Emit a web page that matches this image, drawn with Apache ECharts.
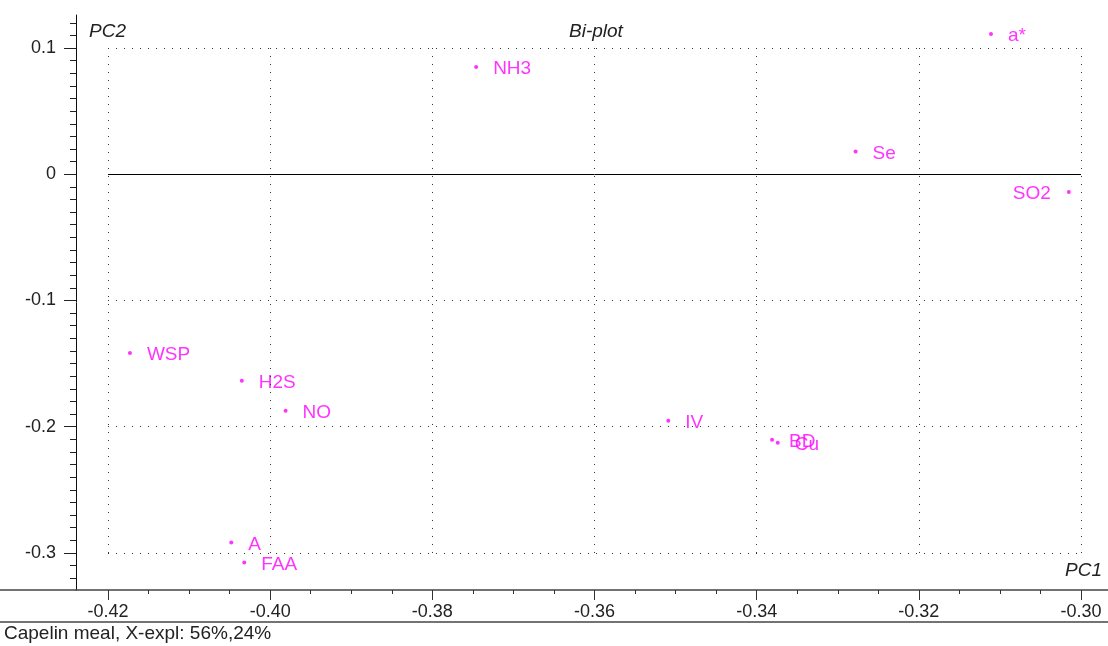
<!DOCTYPE html>
<html>
<head>
<meta charset="utf-8">
<title>Bi-plot</title>
<script src="https://cdn.jsdelivr.net/npm/echarts@6/dist/echarts.min.js"></script>
<style>
  html, body { margin: 0; padding: 0; background: #fff; }
  #chart { width: 1108px; height: 646px; }
</style>
</head>
<body>
<div id="chart"></div>
<script>
// Variable names and their loadings on the first two components
const names = ['a*', 'NH3', 'Se', 'SO2', 'WSP', 'H2S', 'NO', 'IV', 'BD', 'Cu', 'A', 'FAA'];
const pc1 = [-0.3111, -0.3746, -0.3278, -0.3015, -0.4173, -0.4035, -0.3981, -0.3509, -0.3381, -0.3374, -0.4048, -0.4032];
const pc2 = [0.111, 0.085, 0.018, -0.014, -0.1415, -0.1636, -0.1873, -0.1953, -0.2103, -0.2126, -0.2917, -0.3075];
// Labels near the right edge are placed to the left of their point
const leftLabelled = ['SO2'];

// Tick labels and dotted reference lines
const xTicks = [-0.42, -0.40, -0.38, -0.36, -0.34, -0.32, -0.30];
const yTicks = [0.1, 0, -0.1, -0.2, -0.3];
const yDotted = [0.1, -0.1, -0.2, -0.3];
const xMinorTicks = [];
for (let i = 0; i <= 24; i++) xMinorTicks.push(+(-0.42 + i * 0.005).toFixed(3));
const yMinorTicks = [];
for (let i = 0; i <= 44; i++) yMinorTicks.push(+(-0.32 + i * 0.01).toFixed(2));

const X_MIN = -0.42395, X_MAX = -0.29667;
const Y_MIN = -0.32931, Y_MAX = 0.12614;
const FONT = 'Liberation Sans';
const MAGENTA = '#ff00ff';

const dotStyle = { color: '#333', width: 1, type: [1, 7] };
const guideLines = [];
xTicks.forEach(x => guideLines.push([
  { coord: [x, -0.3], lineStyle: dotStyle },
  { coord: [x, 0.1] }
]));
yDotted.forEach(y => guideLines.push([
  { coord: [-0.42, y], lineStyle: dotStyle },
  { coord: [-0.30, y] }
]));
guideLines.push([
  { coord: [-0.42, 0], lineStyle: { color: '#000', width: 1, type: 'solid' } },
  { coord: [-0.30, 0] }
]);

const points = names.map((n, i) => {
  const item = { value: [pc1[i], pc2[i]], name: n };
  if (leftLabelled.includes(n)) item.label = { position: 'left', distance: 16 };
  return item;
});

const chart = echarts.init(document.getElementById('chart'), null, { renderer: 'canvas' });

chart.setOption({
  animation: false,
  backgroundColor: '#fff',
  textStyle: { fontFamily: FONT },
  grid: { left: 76, right: 0, top: 15, bottom: 56, containLabel: false },
  xAxis: [
    {
      type: 'value', min: X_MIN, max: X_MAX, position: 'bottom',
      axisLine: { show: true, onZero: false, lineStyle: { color: '#444', width: 1.5 } },
      axisTick: { show: true, length: 10, customValues: xTicks, lineStyle: { color: '#333' } },
      axisLabel: {
        show: true, customValues: xTicks, margin: 13, color: '#222',
        fontFamily: FONT, fontSize: 18,
        formatter: v => v.toFixed(2)
      },
      splitLine: { show: false }
    },
    {
      type: 'value', min: X_MIN, max: X_MAX, position: 'bottom',
      axisLine: { show: false, onZero: false },
      axisTick: { show: true, length: 4, customValues: xMinorTicks, lineStyle: { color: '#333' } },
      axisLabel: { show: false },
      splitLine: { show: false }
    }
  ],
  yAxis: [
    {
      type: 'value', min: Y_MIN, max: Y_MAX, position: 'left',
      axisLine: { show: true, onZero: false, lineStyle: { color: '#111', width: 1 } },
      axisTick: { show: true, length: 12, customValues: yTicks, lineStyle: { color: '#222' } },
      axisLabel: {
        show: true, customValues: yTicks, margin: 20, color: '#222',
        fontFamily: FONT, fontSize: 18,
        formatter: v => (Math.abs(v) < 1e-9 ? '0' : v.toFixed(1))
      },
      splitLine: { show: false }
    },
    {
      type: 'value', min: Y_MIN, max: Y_MAX, position: 'left',
      axisLine: { show: false, onZero: false },
      axisTick: { show: true, length: 6, customValues: yMinorTicks, lineStyle: { color: '#222' } },
      axisLabel: { show: false },
      splitLine: { show: false }
    }
  ],
  series: [
    {
      type: 'scatter',
      xAxisIndex: 0, yAxisIndex: 0,
      symbol: 'circle',
      symbolSize: 4,
      itemStyle: { color: MAGENTA },
      label: {
        show: true, position: 'right', distance: 15, offset: [0, 2],
        color: MAGENTA, fontFamily: FONT, fontSize: 19,
        formatter: p => p.name
      },
      data: points,
      markLine: {
        silent: true,
        symbol: 'none',
        label: { show: false },
        animation: false,
        data: guideLines
      },
      z: 3
    }
  ],
  graphic: [
    { type: 'line', silent: true, shape: { x1: 0, y1: 590, x2: 76, y2: 590 }, style: { stroke: '#444', lineWidth: 1.5 } },
    { type: 'line', silent: true, shape: { x1: 0, y1: 622, x2: 1108, y2: 622 }, style: { stroke: '#444', lineWidth: 1.5 } },
    { type: 'text', left: 89, top: 22, style: { text: 'PC2', font: 'italic 19px "Liberation Sans"', fill: '#222' } },
    { type: 'text', left: 569, top: 22, style: { text: 'Bi-plot', font: 'italic 19px "Liberation Sans"', fill: '#222' } },
    { type: 'text', right: 6, top: 561, style: { text: 'PC1', font: 'italic 19px "Liberation Sans"', fill: '#222' } },
    { type: 'text', left: 4, top: 624, style: { text: 'Capelin meal, X-expl: 56%,24%', font: '19px "Liberation Sans"', fill: '#222' } }
  ]
});
</script>
</body>
</html>
